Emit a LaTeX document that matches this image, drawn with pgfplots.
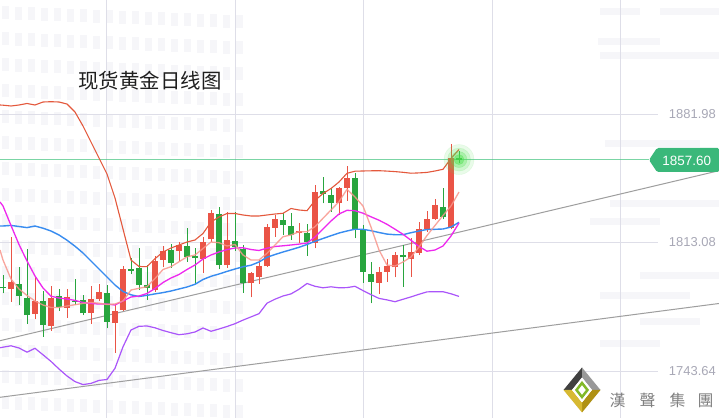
\documentclass[border=0pt]{standalone}
\usepackage{fontspec}
\setmainfont{Liberation Sans}
\newfontfamily\cjk{Noto Sans CJK SC}
\newfontfamily\cjktc{Noto Sans CJK TC}
\usepackage{pgfplots}
\usepackage{pgfplotstable}
\pgfplotsset{compat=1.18}
\definecolor{cred}{RGB}{234,84,70}
\definecolor{cgreen}{RGB}{40,165,62}
\definecolor{cup}{RGB}{228,88,60}
\definecolor{cmid}{RGB}{56,140,240}
\definecolor{cma10}{RGB}{238,40,238}
\definecolor{cma5}{RGB}{248,150,140}
\definecolor{clo}{RGB}{170,85,250}
\definecolor{ctrend}{RGB}{158,158,158}
\definecolor{cgrid}{RGB}{222,222,232}
\definecolor{chl}{RGB}{80,200,135}
\definecolor{ctag}{RGB}{58,184,122}
\definecolor{clbl}{RGB}{168,168,182}
\definecolor{cwm}{RGB}{246,246,249}
\definecolor{cglow}{RGB}{80,225,80}
\definecolor{cgoldd}{RGB}{175,145,20}
\definecolor{cgoldl}{RGB}{215,185,50}
\definecolor{cleaf}{RGB}{130,185,40}

% candles: index, open, high, low, close
\pgfplotstableread{
i o h l c
1 1787.78 1816.09 1781.11 1791.87
4 1774.49 1794.24 1771.64 1781.49
6 1768.03 1789.72 1765.50 1783.26
8 1777.88 1787.95 1772.50 1783.48
11 1775.19 1789.72 1769.11 1782.56
12 1782.73 1790.48 1781.65 1786.33
14 1769.81 1779.33 1753.66 1776.27
15 1776.64 1800.32 1776.11 1798.71
19 1787.41 1805.87 1786.49 1803.02
20 1803.55 1811.25 1799.62 1808.40
22 1808.40 1813.08 1803.02 1811.63
25 1804.09 1816.09 1796.40 1813.40
26 1814.69 1830.46 1813.40 1828.69
28 1800.86 1829.55 1799.25 1814.32
31 1791.01 1797.26 1783.48 1796.40
32 1794.57 1803.55 1790.64 1800.32
33 1800.32 1822.77 1799.95 1821.48
34 1820.94 1827.77 1816.09 1825.46
37 1817.92 1823.31 1812.86 1819.00
39 1812.86 1843.92 1809.85 1840.15
42 1834.39 1843.00 1827.77 1842.14
43 1842.47 1854.14 1835.31 1847.69
47 1791.34 1799.95 1785.26 1797.26
48 1797.26 1803.93 1791.87 1800.32
49 1799.62 1808.02 1794.24 1806.24
51 1804.09 1815.23 1794.57 1807.86
52 1807.16 1824.17 1806.24 1820.08
53 1820.08 1830.09 1818.78 1825.46
54 1825.46 1836.22 1825.08 1833.15
56 1820.61 1865.99 1820.08 1858.29
}\redtab
\pgfplotstableread{
i o h l c
0 1789.02 1795.48 1785.63 1788.40
2 1790.64 1799.62 1779.33 1784.34
3 1783.26 1809.31 1769.11 1773.95
5 1781.49 1786.87 1762.27 1768.57
7 1784.18 1787.78 1776.11 1778.42
9 1781.65 1793.17 1779.33 1781.00
10 1782.03 1784.72 1773.95 1774.87
13 1785.79 1790.10 1766.79 1770.35
16 1798.71 1804.47 1796.02 1797.80
17 1799.25 1809.85 1787.41 1790.10
18 1790.10 1800.86 1782.03 1788.65
21 1808.94 1812.17 1799.41 1802.10
23 1811.09 1820.61 1802.64 1805.33
24 1805.71 1810.17 1790.64 1804.47
27 1828.31 1832.24 1798.55 1800.86
29 1813.62 1829.12 1808.40 1810.39
30 1809.31 1811.63 1785.95 1791.01
35 1825.08 1829.01 1817.01 1822.39
36 1821.85 1829.01 1814.32 1817.01
38 1817.92 1822.77 1805.87 1813.40
40 1840.69 1848.39 1834.07 1839.24
41 1838.54 1842.14 1829.55 1834.39
44 1847.85 1850.22 1815.23 1820.08
45 1819.70 1822.39 1791.34 1797.26
46 1796.02 1802.64 1780.25 1791.87
50 1806.24 1811.63 1789.18 1805.01
55 1832.24 1842.47 1825.46 1826.86
57 1858.30 1862.22 1855.92 1857.60
}\greentab
% indicator lines: upper band, middle band, lower band, MA10, MA5
\pgfplotstableread{
i up mid lo ma10 ma5
-0.375 1886.98 1821.85 1756.35 1834.77 1808.94
0 1886.87 1821.85 1756.63 1832.62 1803.55
1 1886.44 1822.18 1757.38 1822.12 1793.33
2 1886.98 1821.58 1756.20 1811.90 1787.95
3 1887.79 1820.99 1753.94 1803.02 1784.45
4 1886.98 1821.85 1756.03 1794.94 1781.49
5 1888.59 1820.67 1752.54 1788.49 1779.33
6 1888.75 1819.16 1748.98 1784.07 1777.99
7 1888.59 1817.01 1744.89 1783.10 1778.04
8 1887.51 1814.21 1741.13 1782.56 1778.80
9 1883.21 1810.98 1738.11 1781.81 1779.50
10 1875.67 1807.32 1736.50 1780.68 1780.20
11 1867.06 1803.02 1737.14 1780.14 1780.68
12 1858.45 1798.71 1738.76 1779.87 1780.30
13 1849.84 1794.40 1739.24 1779.87 1779.61
14 1836.92 1790.10 1745.27 1779.33 1779.87
15 1820.24 1786.60 1756.84 1781.49 1781.49
16 1803.55 1784.82 1765.88 1783.64 1787.41
17 1800.06 1783.91 1767.88 1784.18 1788.32
18 1799.95 1784.55 1768.04 1785.53 1789.18
19 1804.25 1785.31 1767.07 1788.22 1793.60
20 1807.86 1786.01 1765.61 1791.44 1798.44
21 1810.01 1786.87 1764.43 1793.87 1799.95
22 1811.63 1787.95 1763.35 1795.75 1802.59
23 1813.24 1789.02 1763.84 1798.44 1805.28
24 1814.32 1790.48 1764.81 1800.86 1806.25
25 1817.82 1793.06 1766.96 1804.09 1809.74
26 1824.01 1794.78 1765.18 1806.25 1813.24
27 1826.70 1796.02 1766.42 1807.86 1812.87
28 1828.58 1797.42 1767.77 1809.15 1811.09
29 1828.58 1798.71 1769.27 1810.01 1811.90
30 1827.78 1799.89 1771.21 1810.12 1806.25
31 1827.24 1800.75 1772.93 1809.20 1803.55
32 1827.24 1802.48 1774.66 1808.67 1803.55
33 1827.78 1805.06 1780.31 1809.90 1807.16
34 1828.31 1806.51 1782.46 1810.82 1811.63
35 1828.69 1807.86 1784.18 1811.20 1816.09
36 1831.27 1809.10 1785.31 1811.63 1817.01
37 1830.47 1810.39 1787.79 1812.11 1818.79
38 1830.09 1811.90 1790.91 1812.70 1818.79
39 1835.58 1813.62 1789.40 1815.93 1821.48
40 1839.34 1815.13 1788.60 1820.24 1826.00
41 1842.03 1816.63 1789.13 1824.54 1830.47
42 1845.53 1818.08 1788.60 1828.31 1834.93
43 1850.22 1819.16 1788.70 1830.30 1841.60
44 1851.35 1820.13 1789.40 1830.09 1837.46
45 1851.46 1820.07 1787.09 1828.74 1832.62
46 1851.56 1819.32 1784.94 1826.80 1821.31
47 1851.62 1818.35 1782.89 1824.97 1808.94
48 1851.40 1817.49 1782.08 1822.77 1800.86
49 1851.13 1817.17 1781.11 1820.13 1800.32
50 1850.75 1817.17 1782.41 1817.39 1802.48
51 1850.27 1818.24 1783.70 1814.16 1805.17
52 1850.43 1819.16 1785.10 1810.82 1810.55
53 1850.70 1819.97 1786.39 1808.29 1816.74
54 1851.46 1820.07 1786.50 1808.94 1822.12
55 1852.37 1820.24 1786.50 1811.09 1827.51
56 1858.18 1821.31 1785.37 1816.47 1832.62
57 1863.03 1823.84 1783.97 1823.47 1840.15
}\linetab

\begin{document}
\begin{tikzpicture}
% background, watermark, grid (pixel coordinates, y downward)
\begin{scope}[x=1bp,y=-1bp,yshift=418bp]
\fill[white] (0,0) rectangle (719,418);
\foreach \x in {2,15,...,240}{
  \foreach \y in {6,32,...,410}{
    \fill[cwm] ({\x},{\y+0.04*\x}) rectangle ++(7,13);
  }
}
\foreach \y/\a/\b in {8/600/640, 8/660/719, 38/598/660, 52/600/719, 140/605/700, 200/610/719, 218/590/660, 272/640/719, 292/600/690, 318/640/700, 340/600/660}{
  \fill[cwm] (\a,\y) rectangle (\b,\y+7);
}
\foreach \x in {106.5,235,363.5,492,620.5}{
  \draw[cgrid,line width=1bp] (\x,0) -- (\x,418);
}
\foreach \y in {114.3,242.3,371.3}{
  \draw[cgrid,line width=1bp] (0,\y) -- (658,\y);
}
\end{scope}

\begin{axis}[
  at={(0,0)}, anchor=south west,
  width=719bp, height=418bp, scale only axis,
  xmin=-0.375, xmax=89.5, ymin=1718.52, ymax=1943.49,
  hide axis, clip=true,
]
% trend lines
\addplot[ctrend, line width=1bp] coordinates {(-0.375,1760.12) (89.5,1851.62)};
\addplot[ctrend, line width=1bp] coordinates {(-0.375,1729.66) (89.5,1780.15)};
% last price line
\addplot[chl, line width=1bp, opacity=0.75] coordinates {(-0.375,1857.6) (80.75,1857.6)};
% glow at last price
\addplot[cglow, only marks, mark=*, mark size=15bp, opacity=0.12] coordinates {(57,1857.6)};
\addplot[cglow, only marks, mark=*, mark size=11.5bp, opacity=0.18] coordinates {(57,1857.6)};
\addplot[cglow, only marks, mark=*, mark size=8bp, opacity=0.28] coordinates {(57,1857.6)};
\addplot[cglow, only marks, mark=*, mark size=5bp, opacity=0.45] coordinates {(57,1857.6)};
% wicks
\addplot[draw=none, mark=none, error bars/.cd, y dir=plus, y explicit, error mark=none,
  error bar style={line width=1bp, draw=cred}]
  table[x=i, y=l, y error expr=\thisrow{h}-\thisrow{l}] {\redtab};
\addplot[draw=none, mark=none, error bars/.cd, y dir=plus, y explicit, error mark=none,
  error bar style={line width=1bp, draw=cgreen}]
  table[x=i, y=l, y error expr=\thisrow{h}-\thisrow{l}] {\greentab};
% bodies
\addplot[draw=none, mark=none, error bars/.cd, y dir=plus, y explicit, error mark=none,
  error bar style={line width=6bp, draw=cred}]
  table[x=i, y=o, y error expr=\thisrow{c}-\thisrow{o}] {\redtab};
\addplot[draw=none, mark=none, error bars/.cd, y dir=plus, y explicit, error mark=none,
  error bar style={line width=6bp, draw=cgreen}]
  table[x=i, y=c, y error expr=\thisrow{o}-\thisrow{c}] {\greentab};
% indicator lines
\addplot[clo, line width=1.2bp] table[x=i, y=lo] {\linetab};
\addplot[cmid, line width=1.4bp] table[x=i, y=mid] {\linetab};
\addplot[cma10, line width=1.3bp] table[x=i, y=ma10] {\linetab};
\addplot[cma5, line width=1.3bp, opacity=0.85] table[x=i, y=ma5] {\linetab};
\addplot[cup, line width=1.1bp] table[x=i, y=up] {\linetab};
\end{axis}

% labels, tag, title, logo
\begin{scope}[x=1bp,y=-1bp,yshift=418bp]
\node[anchor=east, text=clbl, font=\fontsize{13}{13}\selectfont, inner sep=0pt] at (716,114.3) {1881.98};
\node[anchor=east, text=clbl, font=\fontsize{13}{13}\selectfont, inner sep=0pt] at (716,242.3) {1813.08};
\node[anchor=east, text=clbl, font=\fontsize{13}{13}\selectfont, inner sep=0pt] at (716,371.3) {1743.64};
\fill[ctag, rounded corners=1.5bp] (649,160) -- (657,148) -- (719,148) -- (719,172) -- (657,172) -- cycle;
\node[text=white, font=\fontsize{13.5}{13.5}\selectfont, inner sep=0pt] at (686.7,160.5) {1857.60};
\node[text=black!88, font=\cjk\fontsize{20.5}{20.5}\selectfont, inner sep=0pt] at (150,80.5) {现货黄金日线图};
% logo
\fill[black!75] (563.5,390) -- (582,367.5) -- (582,377.5) -- (572,390) -- cycle;
\fill[black!40] (582,367.5) -- (600.5,390) -- (592,390) -- (582,377.5) -- cycle;
\fill[cgoldd] (600.5,390) -- (582,412.5) -- (582,402.5) -- (592,390) -- cycle;
\fill[cgoldl] (582,412.5) -- (563.5,390) -- (572,390) -- (582,402.5) -- cycle;
\fill[white] (582,377.5) -- (592,390) -- (582,402.5) -- (572,390) -- cycle;
\draw[cleaf, line width=2.5bp] (582,383) -- (587.5,390) -- (582,397) -- (576.5,390) -- cycle;
\foreach \c/\x in {漢/617.5, 聲/647.5, 集/677.5, 團/705.5}{
  \node[text=black!50, font=\cjktc\fontsize{16}{16}\selectfont, inner sep=0pt] at (\x,400.5) {\c};
}
\end{scope}
\pgfresetboundingbox
\path[use as bounding box] (0,0) rectangle (719bp,418bp);
\end{tikzpicture}
\end{document}
